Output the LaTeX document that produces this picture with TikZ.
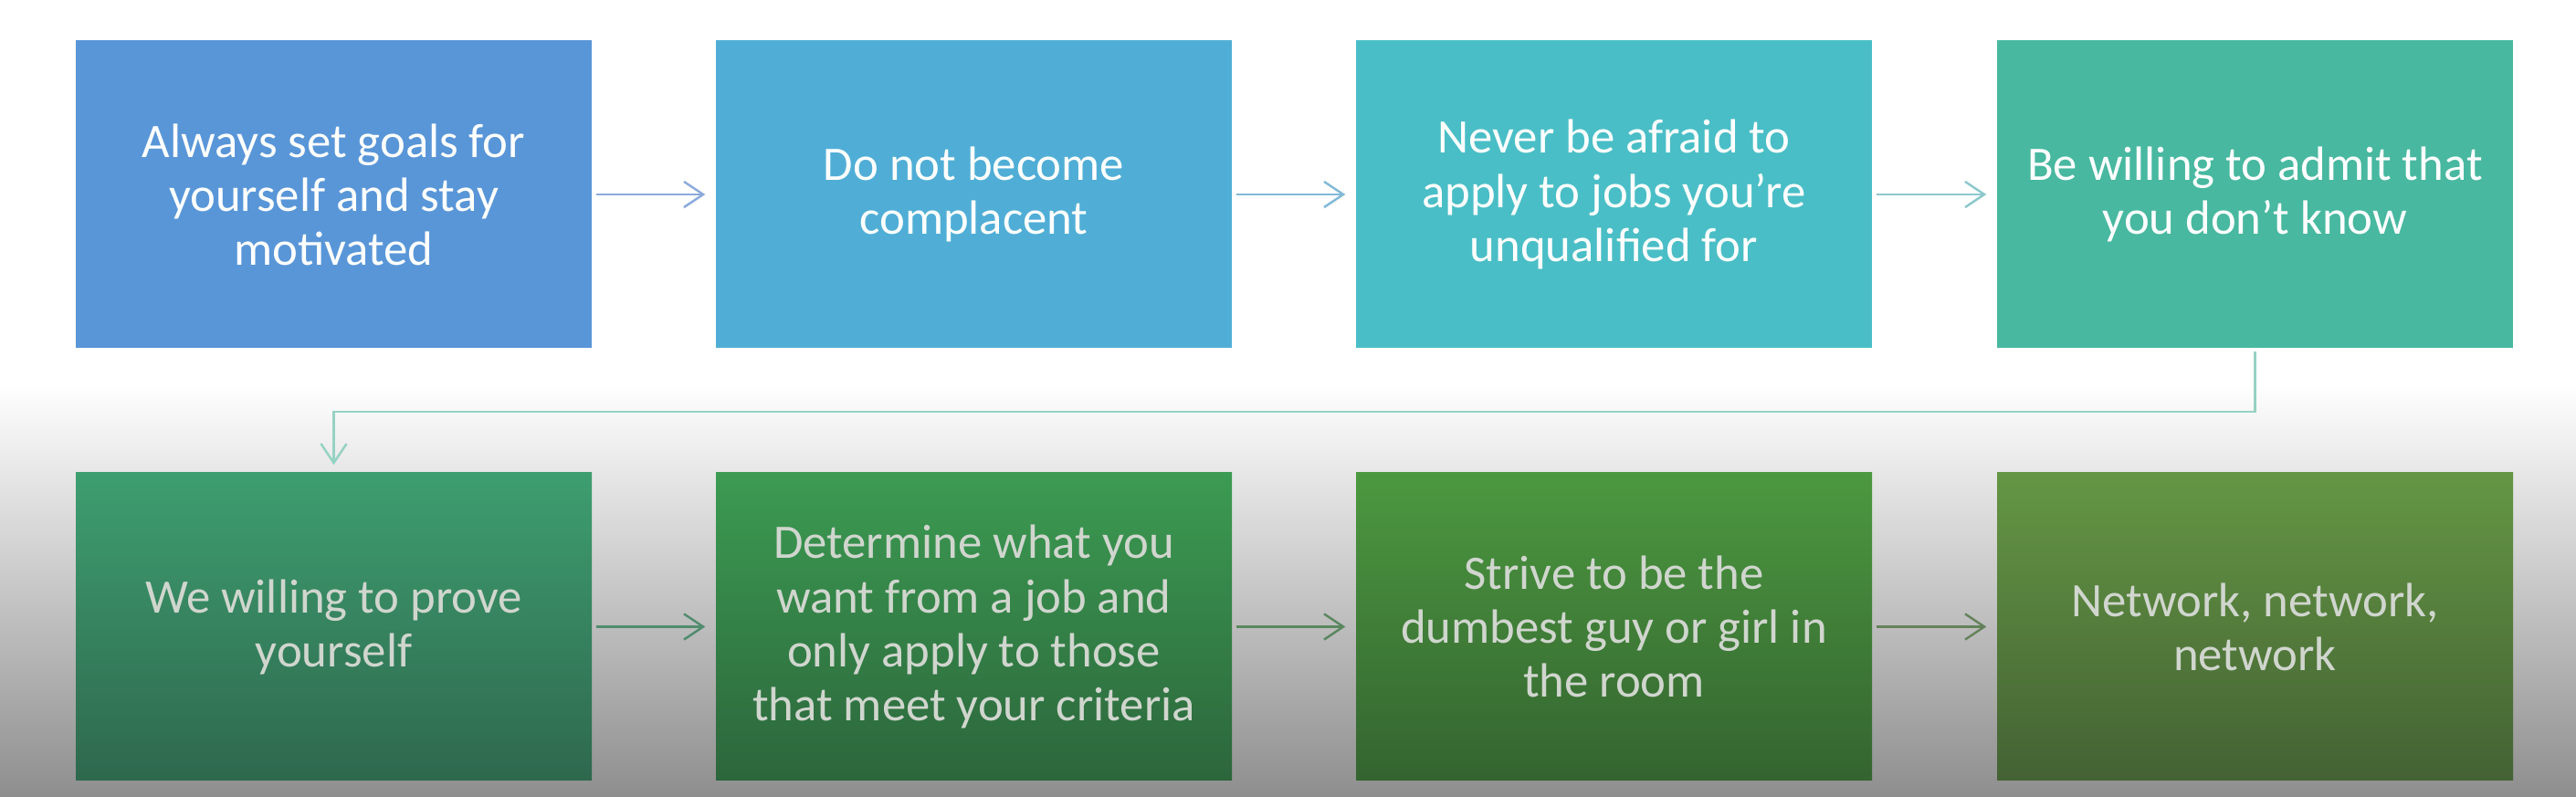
\documentclass[tikz,border=0pt]{standalone}
\usepackage{fontspec}
\setmainfont{Carlito}
\usepackage{tikz}
\usetikzlibrary{arrows.meta, positioning}
\definecolor{boxA}{RGB}{89,150,216}
\definecolor{boxB}{RGB}{80,174,214}
\definecolor{boxC}{RGB}{74,190,198}
\definecolor{boxD}{RGB}{72,184,160}
\definecolor{boxEt}{RGB}{62,158,112}
\definecolor{boxEb}{RGB}{46,104,78}
\definecolor{boxFt}{RGB}{60,155,82}
\definecolor{boxFb}{RGB}{44,102,60}
\definecolor{boxGt}{RGB}{76,152,64}
\definecolor{boxGb}{RGB}{52,100,48}
\definecolor{boxHt}{RGB}{100,150,68}
\definecolor{boxHb}{RGB}{68,98,52}
\definecolor{bggray}{RGB}{142,142,142}
\definecolor{lowtext}{RGB}{208,214,206}
\definecolor{arrA}{RGB}{140,170,220}
\definecolor{arrB}{RGB}{130,185,215}
\definecolor{arrC}{RGB}{140,200,205}
\definecolor{arrD}{RGB}{150,210,195}
\definecolor{arrE}{RGB}{80,140,110}
\definecolor{arrF}{RGB}{90,135,95}
\definecolor{arrG}{RGB}{100,130,90}
\tikzset{
  tipbox/.style={minimum width=5.65cm, minimum height=3.37cm, inner sep=0pt, align=center,
    font=\fontsize{15}{16.8}\selectfont},
  flow/.style={line width=0.7pt, -{Straight Barb[length=6pt, width=8pt, line width=0.7pt]},
    shorten <=0.04cm, shorten >=0.11cm}
}
\begin{document}
\begin{tikzpicture}
\fill[white] (0, 0) rectangle (28.21, 8.73);
\shade[top color=white, bottom color=bggray] (0, 0) rectangle (28.21, 4.53);
\useasboundingbox (0, 0) rectangle (28.21, 8.73);
\foreach \name/\x/\col/\txt in {b1/3.655/boxA/{Always set goals for\\yourself and stay\\motivated},
    b2/10.665/boxB/{Do not become\\complacent},
    b3/17.675/boxC/{Never be afraid to\\apply to jobs you’re\\unqualified for},
    b4/24.695/boxD/{Be willing to admit that\\you don’t know}} {
    \node[tipbox, fill=\col, text=white] (\name) at (\x, 6.60) {\txt};
}
\foreach \name/\x/\col/\txt in {b5/3.655/boxE/{We willing to prove\\yourself},
    b6/10.665/boxF/{Determine what you\\want from a job and\\only apply to those\\that meet your criteria},
    b7/17.675/boxG/{Strive to be the\\dumbest guy or girl in\\the room},
    b8/24.695/boxH/{Network, network,\\network}} {
    \node[tipbox, top color=\col t, bottom color=\col b, text=lowtext] (\name) at (\x, 1.865) {\txt};
}
\foreach \a/\b/\col in {b1/b2/arrA, b2/b3/arrB, b3/b4/arrC, b5/b6/arrE, b6/b7/arrF, b7/b8/arrG} {
    \draw[flow, \col] (\a.east) -- (\b.west);
}
\draw[flow, arrD, shorten <=0.03cm, shorten >=0.08cm] (b4.south) -- (b4.south |- 0, 4.22) -- (b5.north |- 0, 4.22) -- (b5.north);
\end{tikzpicture}
\end{document}
